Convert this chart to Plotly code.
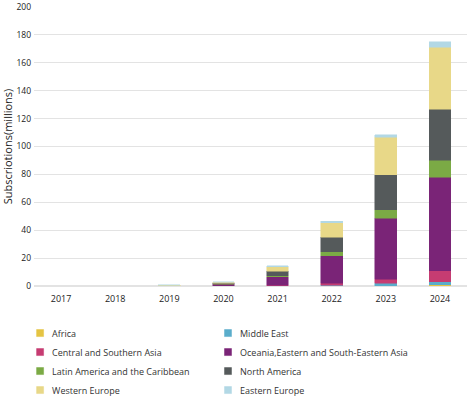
import plotly.graph_objects as go

years = ["2017", "2018", "2019", "2020", "2021", "2022", "2023", "2024"]

series_names = [
    "Africa",
    "Middle East",
    "Central and Southern Asia",
    "Oceania,Eastern and South-Eastern Asia",
    "Latin America and the Caribbean",
    "North America",
    "Western Europe",
    "Eastern Europe",
]

africa = [0, 0, 0, 0.05, 0.05, 0.2, 0.3, 0.8]
middle_east = [0, 0, 0, 0.05, 0.1, 0.5, 1.6, 2.2]
central_southern_asia = [0, 0, 0, 0.1, 0.3, 1.2, 3.1, 8.0]
oceania_east_se_asia = [0, 0, 0.05, 1.1, 6.1, 19.9, 43.6, 67.1]
latin_america = [0, 0, 0, 0.2, 0.9, 2.7, 6.1, 12.0]
north_america = [0, 0, 0.05, 0.4, 3.1, 10.5, 25.2, 36.7]
western_europe = [0, 0, 0.3, 0.9, 3.4, 10.5, 26.8, 44.2]
eastern_europe = [0, 0, 0.5, 0.3, 0.7, 0.8, 1.9, 4.0]

series_values = [
    africa, middle_east, central_southern_asia, oceania_east_se_asia,
    latin_america, north_america, western_europe, eastern_europe,
]

colors = ["#E5C443", "#5AADCB", "#C63C72", "#7A2477",
          "#7BAA45", "#555A5B", "#E8D888", "#B2D8E5"]

y_ticks = [0, 20, 40, 60, 80, 100, 120, 140, 160, 180, 200]

fig = go.Figure()
for i, (name, vals, col) in enumerate(zip(series_names, series_values, colors)):
    fig.add_trace(go.Bar(
        x=years, y=vals, name=name,
        marker=dict(color=col, line=dict(color=col, width=0.5)),
        width=0.4,
        legend="legend" if i % 2 == 0 else "legend2",
    ))

legend_common = dict(
    orientation="v",
    xanchor="left",
    y=-0.1167, yanchor="top",
    traceorder="normal",
    font=dict(size=9, color="#333"),
    tracegroupgap=0,
    bgcolor="rgba(0,0,0,0)",
)

fig.update_layout(
    barmode="stack",
    width=467, height=397,
    margin=dict(l=34, r=0, t=7, b=111, autoexpand=False),
    plot_bgcolor="white", paper_bgcolor="white",
    font=dict(family="Open Sans", size=9, color="#222"),
    showlegend=True,
    legend=dict(x=-0.0506, **legend_common),
    legend2=dict(x=0.3834, **legend_common),
    xaxis=dict(
        type="category", showgrid=False, showline=False, zeroline=False,
        ticks="", tickfont=dict(size=9), automargin=False,
        ticklabelstandoff=6,
    ),
    yaxis=dict(
        range=[0, 200], tickvals=y_ticks, showgrid=True, gridcolor="#E3E3E3",
        gridwidth=1, zeroline=True, zerolinecolor="#E3E3E3", showline=False,
        ticks="", tickfont=dict(size=8.5), automargin=False,
        ticklabelstandoff=2,
        title=dict(text="Subscriotions(millions)", font=dict(size=11), standoff=3),
    ),
    bargap=0.6,
)

post = """
document.body.style.margin='0';
var gd = document.getElementById('{plot_id}');
function shrinkLegendSymbols(){
  gd.querySelectorAll('g.legendpoints path').forEach(function(p){
    p.setAttribute('d','M11.5,3.5H4.5V-3.5H11.5Z');
  });
}
shrinkLegendSymbols();
gd.on('plotly_afterplot', shrinkLegendSymbols);
setTimeout(shrinkLegendSymbols, 50);
setTimeout(shrinkLegendSymbols, 300);
"""

fig.write_html("out.html", post_script=post, config={"displayModeBar": False})
